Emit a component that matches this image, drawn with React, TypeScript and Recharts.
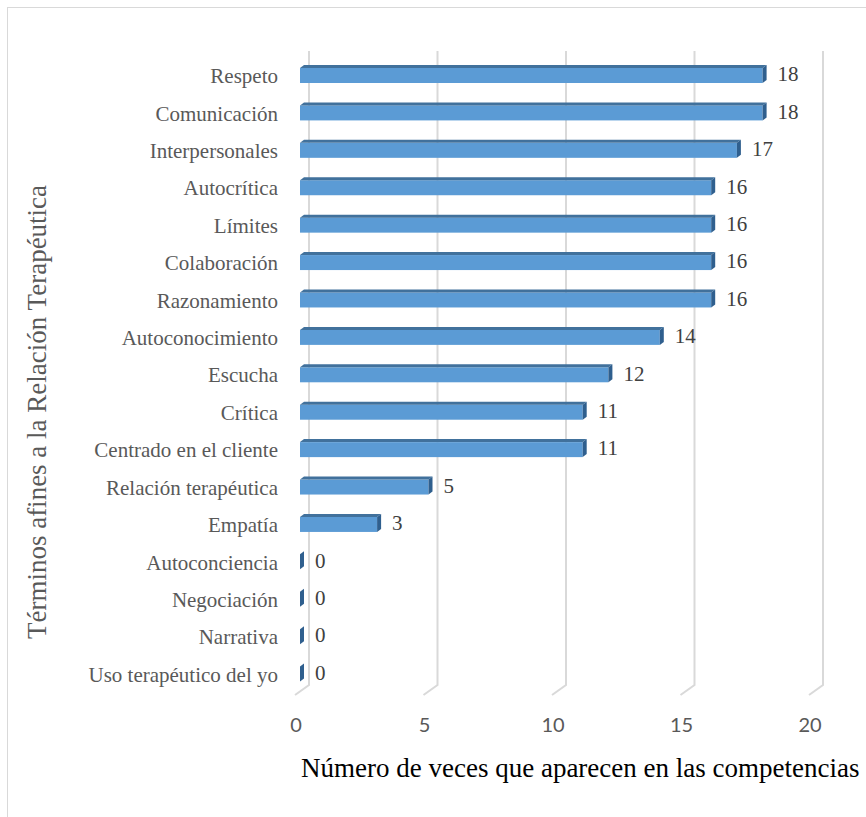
import React from 'react';
import { BarChart, Bar, XAxis, YAxis, CartesianGrid, LabelList, Label } from 'recharts';

const categories = [
  'Respeto',
  'Comunicación',
  'Interpersonales',
  'Autocrítica',
  'Límites',
  'Colaboración',
  'Razonamiento',
  'Autoconocimiento',
  'Escucha',
  'Crítica',
  'Centrado en el cliente',
  'Relación terapéutica',
  'Empatía',
  'Autoconciencia',
  'Negociación',
  'Narrativa',
  'Uso terapéutico del yo',
];
const counts = [18, 18, 17, 16, 16, 16, 16, 14, 12, 11, 11, 5, 3, 0, 0, 0, 0];
const xTicks = [0, 5, 10, 15, 20];

const data = categories.map((name, i) => ({ name, value: counts[i] }));

const SERIF = '"Liberation Serif", "Times New Roman", serif';
const SANS = 'Lato, "Open Sans", sans-serif';
const DX = 4;
const DY = 3;

const Bar3D = (props: any) => {
  const { x, y, width, height } = props;
  const w = Math.max(0, width || 0);
  return (
    <g>
      <rect x={x} y={y} width={w} height={height} fill="#5B9BD5" />
      <polygon
        points={`${x},${y} ${x + DX},${y - DY} ${x + w + DX},${y - DY} ${x + w},${y}`}
        fill="#41719C"
      />
      <polygon
        points={`${x + w},${y} ${x + w + DX},${y - DY} ${x + w + DX},${y + height - DY} ${x + w},${y + height}`}
        fill="#2F5F8E"
      />
    </g>
  );
};

const gridLine = (props: any) => {
  const { x1, y1, y2, index } = props;
  return (
    <path
      key={`g-${index}`}
      d={`M${x1 + 9},${y1 - 6} L${x1 + 9},${y2 - 8} L${x1 - 5},${y2 + 2}`}
      stroke="#D9D9D9"
      strokeWidth={2}
      fill="none"
    />
  );
};

const XTick = (props: any) => {
  const { x, y, payload } = props;
  return (
    <text x={x - 4} y={y + 3} dy="0.71em" textAnchor="middle" fill="#595959" fontSize={20} fontFamily={SANS}>
      {payload.value}
    </text>
  );
};

const ValueLabel = (props: any) => {
  const { x, y, width, height, value } = props;
  return (
    <text x={x + width + 15} y={y + height / 2 + 1} dominantBaseline="middle" fill="#404040" fontSize={21} fontFamily={SERIF}>
      {value}
    </text>
  );
};

export default function App() {
  return (
    <div style={{ position: 'relative', width: 866, height: 817, overflow: 'hidden', background: '#fff' }}>
      <style>{`body{margin:0;}`}</style>
      <div
        style={{
          position: 'absolute',
          left: 7,
          top: 7,
          width: 950,
          height: 950,
          border: '1.5px solid #D9D9D9',
        }}
      />
      <div style={{ position: 'absolute', left: 0, top: 0 }}>
        <BarChart
          width={866}
          height={817}
          data={data}
          layout="vertical"
          margin={{ top: 57, right: 52, bottom: 0, left: 0 }}
          barSize={15}
        >
          <CartesianGrid horizontal={false} vertical={gridLine} />
          <XAxis
            type="number"
            domain={[0, 20]}
            ticks={xTicks}
            axisLine={false}
            tickLine={false}
            tickSize={20}
            tick={<XTick />}
            height={124}
          >
            <Label
              content={() => (
                <text x={301} y={777} fill="#000" fontSize={27} fontFamily={SERIF}>
                  Número de veces que aparecen en las competencias
                </text>
              )}
            />
          </XAxis>
          <YAxis
            type="category"
            dataKey="name"
            width={300}
            axisLine={false}
            tickLine={false}
            tickSize={20}
            interval={0}
            tick={{ fill: '#595959', fontSize: 21, fontFamily: SERIF }}
          >
            <Label
              content={() => (
                <text
                  x={40}
                  y={412}
                  transform="rotate(-90 40 412)"
                  textAnchor="middle"
                  dominantBaseline="middle"
                  fill="#595959"
                  fontSize={27}
                  fontFamily={SERIF}
                >
                  Términos afines a la Relación Terapéutica
                </text>
              )}
            />
          </YAxis>
          <Bar dataKey="value" shape={<Bar3D />} isAnimationActive={false}>
            <LabelList dataKey="value" content={<ValueLabel />} />
          </Bar>
        </BarChart>
      </div>
    </div>
  );
}
